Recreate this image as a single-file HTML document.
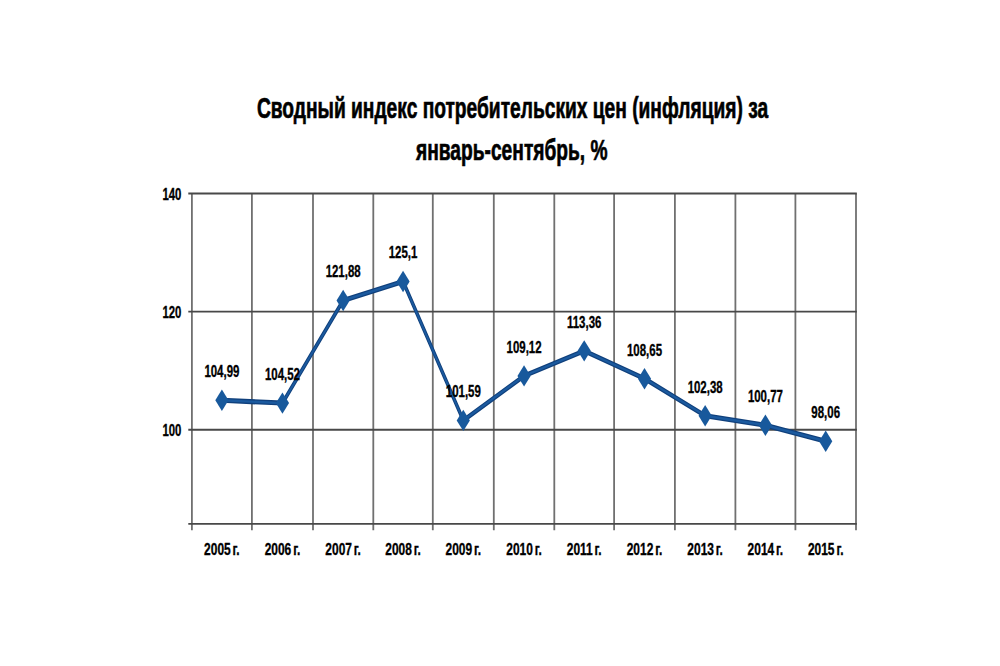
<!DOCTYPE html><html><head><meta charset="utf-8"><style>html,body{margin:0;padding:0;background:#fff;width:1000px;height:666px;overflow:hidden}svg{display:block}text{font-family:"Liberation Sans",sans-serif;font-weight:bold;fill:#000;stroke:#000}</style></head><body>
<svg width="1000" height="666" viewBox="0 0 1000 666">
<rect width="1000" height="666" fill="#fff"/>
<path d="M191.90 193.5V530.3 M251.90 193.5V530.3 M313.00 193.5V530.3 M373.30 193.5V530.3 M432.80 193.5V530.3 M493.80 193.5V530.3 M554.30 193.5V530.3 M614.10 193.5V530.3 M674.90 193.5V530.3 M735.40 193.5V530.3 M795.40 193.5V530.3 M856.00 193.5V530.3" stroke="#707070" stroke-width="1.8" fill="none"/>
<path d="M188.3 193.5H856.80 M188.3 311.6H856.80 M188.3 429.75H856.80 M188.3 523.9H856.80" stroke="#484848" stroke-width="1.9" fill="none"/>
<text transform="translate(512.5,118.1) scale(0.64,1)" text-anchor="middle" font-size="30" stroke-width="0.7">Сводный индекс потребительских цен (инфляция) за</text>
<text transform="translate(511.8,159.6) scale(0.64,1)" text-anchor="middle" font-size="30" stroke-width="0.7">январь-сентябрь, %</text>
<text transform="translate(181.4,200.0) scale(0.69,1)" text-anchor="end" font-size="16.5" stroke-width="0.35">140</text>
<text transform="translate(181.4,318.1) scale(0.69,1)" text-anchor="end" font-size="16.5" stroke-width="0.35">120</text>
<text transform="translate(181.4,436.2) scale(0.69,1)" text-anchor="end" font-size="16.5" stroke-width="0.35">100</text>
<text transform="translate(221.90,554.7) scale(0.725,1)" text-anchor="middle" font-size="16.5" stroke-width="0.35">2005<tspan dx="-2">&#160;г.</tspan></text>
<text transform="translate(282.45,554.7) scale(0.725,1)" text-anchor="middle" font-size="16.5" stroke-width="0.35">2006<tspan dx="-2">&#160;г.</tspan></text>
<text transform="translate(343.15,554.7) scale(0.725,1)" text-anchor="middle" font-size="16.5" stroke-width="0.35">2007<tspan dx="-2">&#160;г.</tspan></text>
<text transform="translate(403.05,554.7) scale(0.725,1)" text-anchor="middle" font-size="16.5" stroke-width="0.35">2008<tspan dx="-2">&#160;г.</tspan></text>
<text transform="translate(463.30,554.7) scale(0.725,1)" text-anchor="middle" font-size="16.5" stroke-width="0.35">2009<tspan dx="-2">&#160;г.</tspan></text>
<text transform="translate(524.05,554.7) scale(0.725,1)" text-anchor="middle" font-size="16.5" stroke-width="0.35">2010<tspan dx="-2">&#160;г.</tspan></text>
<text transform="translate(584.20,554.7) scale(0.725,1)" text-anchor="middle" font-size="16.5" stroke-width="0.35">2011<tspan dx="-2">&#160;г.</tspan></text>
<text transform="translate(644.50,554.7) scale(0.725,1)" text-anchor="middle" font-size="16.5" stroke-width="0.35">2012<tspan dx="-2">&#160;г.</tspan></text>
<text transform="translate(705.15,554.7) scale(0.725,1)" text-anchor="middle" font-size="16.5" stroke-width="0.35">2013<tspan dx="-2">&#160;г.</tspan></text>
<text transform="translate(765.40,554.7) scale(0.725,1)" text-anchor="middle" font-size="16.5" stroke-width="0.35">2014<tspan dx="-2">&#160;г.</tspan></text>
<text transform="translate(825.70,554.7) scale(0.725,1)" text-anchor="middle" font-size="16.5" stroke-width="0.35">2015<tspan dx="-2">&#160;г.</tspan></text>
<g transform="scale(0.65,1)">
<path d="M341.38 400.31 L434.54 403.09 L527.92 300.49 L620.08 281.46 L712.77 420.40 L806.23 375.90 L898.77 350.84 L991.54 378.68 L1084.85 415.73 L1177.54 425.25 L1270.31 441.27" stroke="#10407c" stroke-width="5.0" fill="none" stroke-linejoin="round"/>
<path d="M341.38 400.31 L434.54 403.09 L527.92 300.49 L620.08 281.46 L712.77 420.40 L806.23 375.90 L898.77 350.84 L991.54 378.68 L1084.85 415.73 L1177.54 425.25 L1270.31 441.27" stroke="#1b5a9f" stroke-width="2.4" fill="none" stroke-linejoin="round"/>
<path d="M341.38 389.61L351.54 400.31L341.38 411.01L331.23 400.31Z" fill="#18599c"/>
<path d="M434.54 392.39L444.69 403.09L434.54 413.79L424.38 403.09Z" fill="#18599c"/>
<path d="M527.92 289.79L538.08 300.49L527.92 311.19L517.77 300.49Z" fill="#18599c"/>
<path d="M620.08 270.76L630.23 281.46L620.08 292.16L609.92 281.46Z" fill="#18599c"/>
<path d="M712.77 409.70L722.92 420.40L712.77 431.10L702.62 420.40Z" fill="#18599c"/>
<path d="M806.23 365.20L816.38 375.90L806.23 386.60L796.08 375.90Z" fill="#18599c"/>
<path d="M898.77 340.14L908.92 350.84L898.77 361.54L888.62 350.84Z" fill="#18599c"/>
<path d="M991.54 367.98L1001.69 378.68L991.54 389.38L981.38 378.68Z" fill="#18599c"/>
<path d="M1084.85 405.03L1095.00 415.73L1084.85 426.43L1074.69 415.73Z" fill="#18599c"/>
<path d="M1177.54 414.55L1187.69 425.25L1177.54 435.95L1167.38 425.25Z" fill="#18599c"/>
<path d="M1270.31 430.57L1280.46 441.27L1270.31 451.97L1260.15 441.27Z" fill="#18599c"/>
</g>
<text transform="translate(221.90,377.31) scale(0.695,1)" text-anchor="middle" font-size="16.5" stroke-width="0.35">104,99</text>
<text transform="translate(282.45,380.09) scale(0.695,1)" text-anchor="middle" font-size="16.5" stroke-width="0.35">104,52</text>
<text transform="translate(343.15,277.49) scale(0.695,1)" text-anchor="middle" font-size="16.5" stroke-width="0.35">121,88</text>
<text transform="translate(403.05,258.46) scale(0.695,1)" text-anchor="middle" font-size="16.5" stroke-width="0.35">125,1</text>
<text transform="translate(463.30,397.40) scale(0.695,1)" text-anchor="middle" font-size="16.5" stroke-width="0.35">101,59</text>
<text transform="translate(524.05,352.90) scale(0.695,1)" text-anchor="middle" font-size="16.5" stroke-width="0.35">109,12</text>
<text transform="translate(584.20,327.84) scale(0.695,1)" text-anchor="middle" font-size="16.5" stroke-width="0.35">113,36</text>
<text transform="translate(644.50,355.68) scale(0.695,1)" text-anchor="middle" font-size="16.5" stroke-width="0.35">108,65</text>
<text transform="translate(705.15,392.73) scale(0.695,1)" text-anchor="middle" font-size="16.5" stroke-width="0.35">102,38</text>
<text transform="translate(765.40,402.25) scale(0.695,1)" text-anchor="middle" font-size="16.5" stroke-width="0.35">100,77</text>
<text transform="translate(825.70,418.27) scale(0.695,1)" text-anchor="middle" font-size="16.5" stroke-width="0.35">98,06</text>
</svg></body></html>
